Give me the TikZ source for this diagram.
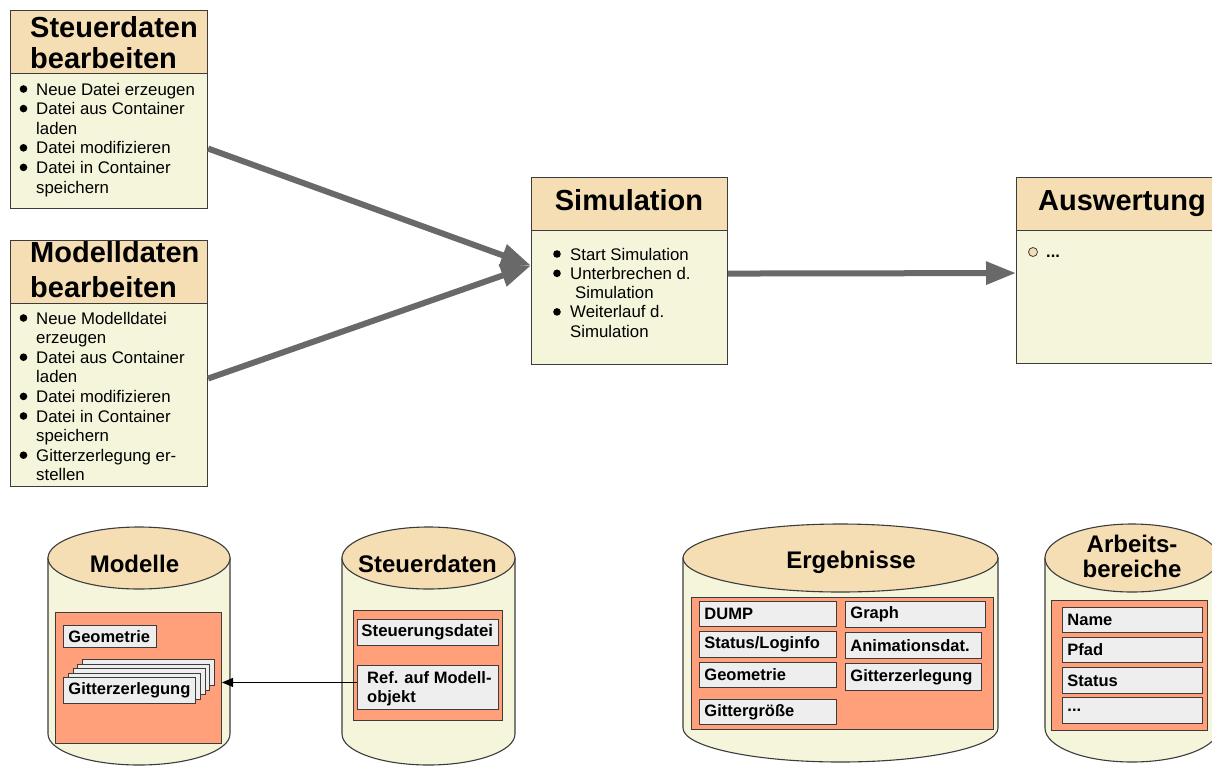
\documentclass[tikz,border=0pt]{standalone}
\usepackage{fontspec}
\setmainfont{Liberation Sans}
\usetikzlibrary{arrows.meta,calc}
\definecolor{hdr}{RGB}{245,222,179}
\definecolor{bod}{RGB}{245,245,220}
\definecolor{org}{RGB}{255,160,122}
\definecolor{gbx}{RGB}{238,238,238}
\definecolor{brd}{RGB}{60,60,60}
\definecolor{arr}{RGB}{105,105,105}
\begin{document}
\begin{tikzpicture}[x=1pt,y=-1pt,
  hbox/.style={draw=brd,fill=hdr,line width=1.1pt,anchor=north west,inner sep=0pt},
  bbox/.style={draw=brd,fill=bod,line width=1.1pt,anchor=north west,inner sep=0pt},
  obox/.style={draw=brd,fill=org,line width=1pt,anchor=north west,inner sep=0pt},
  ibox/.style={draw=brd,fill=gbx,line width=0.9pt,anchor=north west,inner xsep=5pt,inner ysep=0pt,align=left,font=\fontsize{16.5}{19}\selectfont\bfseries},
  htxt/.style={inner sep=0pt,font=\fontsize{29}{31.5}\selectfont\bfseries},
  ctxt/.style={inner sep=0pt,anchor=base,font=\fontsize{24}{25}\selectfont\bfseries},
  ltxt/.style={inner sep=0pt,anchor=base west,font=\fontsize{16.8}{19.6}\selectfont},
  btxt/.style={inner sep=0pt,anchor=base west,font=\fontsize{16.5}{19}\selectfont\bfseries},
  cyl/.style={draw=brd,fill=bod,line width=1.1pt},
  cyltop/.style={draw=brd,fill=hdr,line width=1.1pt},
  bigarrow/.style={draw=arr,line width=6pt,-{Triangle[length=30pt,width=22pt]}},
  thinarrow/.style={draw=black,line width=0.9pt,-{Triangle[length=11pt,width=9pt]}}
]
\path[use as bounding box] (0,0) rectangle (1212,766);

% ---------- Steuerdaten bearbeiten
\node[hbox,minimum width=197pt,minimum height=63pt] (sbh) at (10,10) {};
\node[bbox,minimum width=197pt,minimum height=135pt] (sbb) at (10,73) {};
\node[htxt,anchor=base west] (sbt1) at (30,37) {Steuerdaten};
\node[htxt,anchor=base west] (sbt2) at (30,68) {bearbeiten};
\foreach[count=\i] \y/\t in {95/Neue Datei erzeugen,114.6/Datei aus Container,134.2/laden,153.8/Datei modifizieren,173.4/Datei in Container,193/speichern}
  \node[ltxt] (sbl\i) at (36,\y) {\t};
\foreach \y in {95,114.6,153.8,173.4} \fill (23.5,\y-6) circle (3.8);

% ---------- Modelldaten bearbeiten
\node[hbox,minimum width=197pt,minimum height=63pt] (mdh) at (10,240) {};
\node[bbox,minimum width=197pt,minimum height=183pt] (mdb) at (10,303) {};
\node[htxt,anchor=base west] (mdt1) at (30,262) {Modelldaten};
\node[htxt,anchor=base west] (mdt2) at (30,297) {bearbeiten};
\foreach[count=\i] \y/\t in {324/Neue Modelldatei,343.6/erzeugen,363.2/Datei aus Container,382.8/laden,402.4/Datei modifizieren,422/Datei in Container,441.6/speichern,461.2/Gitterzerlegung er-,480.8/stellen}
  \node[ltxt] (mdl\i) at (36,\y) {\t};
\foreach \y in {324,363.2,402.4,422,461.2} \fill (23.5,\y-6) circle (3.8);

% ---------- Simulation
\node[hbox,minimum width=196pt,minimum height=53pt] (simh) at (531,177) {};
\node[bbox,minimum width=196pt,minimum height=134pt] (simb) at (531,230) {};
\node[htxt,anchor=base] (simt) at (629,210) {Simulation};
\foreach[count=\i] \x/\y/\t in {570/260/Start Simulation,570/279.3/Unterbrechen d.,575/298.6/Simulation,570/317.9/Weiterlauf d.,570/337.2/Simulation}
  \node[ltxt] (siml\i) at (\x,\y) {\t};
\foreach \y in {260,279.3,317.9} \fill (557,\y-6) circle (3.8);

% ---------- Auswertung
\node[hbox,minimum width=212pt,minimum height=53pt] (awh) at (1016,177) {};
\node[bbox,minimum width=212pt,minimum height=133pt] (awb) at (1016,230) {};
\node[htxt,anchor=base west] (awt) at (1038,210) {Auswertung};
\draw[brd,fill=hdr,line width=0.8pt] (1033,252) circle (4.5);
\node[btxt] (awl) at (1046,257) {...};

% ---------- big arrows
\draw[bigarrow] ([yshift=-7.5pt]sbb.east) -- ([yshift=32pt]simb.west);
\draw[bigarrow] ([yshift=16.5pt]mdb.east) -- ([yshift=32pt]simb.west);
\draw[bigarrow] ([yshift=24pt]simb.east) -- ([yshift=24pt]awb.west);

% ---------- cylinder Modelle
\path[cyl] (48,558) -- (48,734) arc[start angle=180,end angle=0,x radius=91,y radius=31] -- (230,558) -- cycle;
\path[cyltop] (139,558) ellipse[x radius=91,y radius=31];
\node[ctxt] (cmt) at (134.5,572) {Modelle};
\node[obox,minimum width=166pt,minimum height=131pt] (mi) at (55,612) {};
\node[ibox,text width=83pt,minimum height=22pt] (mgeo) at (63,625) {Geometrie};
\foreach \k in {4,3,2,1}
  \node[ibox,text width=122pt,minimum height=26pt] (mg\k) at (63+4.75*\k,677-4.5*\k) {};
\node[ibox,text width=122pt,minimum height=26pt] (mgit) at (63,677) {Gitterzerlegung};

% ---------- cylinder Steuerdaten
\path[cyl] (342,558) -- (342,734) arc[start angle=180,end angle=0,x radius=86.5,y radius=31] -- (515,558) -- cycle;
\path[cyltop] (428.5,558) ellipse[x radius=86.5,y radius=31];
\node[ctxt] (cst) at (427.5,572) {Steuerdaten};
\node[obox,minimum width=149pt,minimum height=110pt] (si) at (353,610) {};
\node[ibox,text width=133pt,inner xsep=4pt,minimum height=26pt,font=\fontsize{16.8}{19}\selectfont\bfseries] (sdat) at (357,619) {Steuerungsdatei};
\node[ibox,minimum width=141pt,minimum height=44pt] (sref) at (357,665) {};
\node[btxt] (sref1) at (367,683) {Ref. auf Modell-};
\node[btxt] (sref2) at (367,702) {objekt};
\draw[thinarrow] ([yshift=5pt]sref.west) -- ([yshift=5pt]sref.west -| mi.east);

% ---------- cylinder Ergebnisse
\path[cyl] (683,558) -- (683,728) arc[start angle=180,end angle=0,x radius=157.5,y radius=34] -- (998,558) -- cycle;
\path[cyltop] (840.5,558) ellipse[x radius=157.5,y radius=34];
\node[ctxt] (cet) at (851,568) {Ergebnisse};
\node[obox,minimum width=302pt,minimum height=132pt] (ei) at (691,597) {};
\node[ibox,text width=127pt,minimum height=25pt] (edump) at (699,601) {DUMP};
\node[ibox,text width=127pt,minimum height=26pt] (estat) at (699,631) {Status/Loginfo};
\node[ibox,text width=127pt,minimum height=25pt] (egeo) at (699,662) {Geometrie};
\node[ibox,text width=127pt,minimum height=25pt] (egg) at (699,699) {Gittergröße};
\node[ibox,text width=130pt,minimum height=26pt] (egraph) at (845,601) {Graph};
\node[ibox,text width=126pt,minimum height=26pt] (eanim) at (845,632) {Animationsdat.};
\node[ibox,text width=126pt,minimum height=27pt] (egit) at (845,663) {Gitterzerlegung};

% ---------- cylinder Arbeitsbereiche
\path[cyl] (1045,558) -- (1045,728) arc[start angle=180,end angle=0,x radius=87,y radius=34] -- (1219,558) -- cycle;
\path[cyltop] (1132,558) ellipse[x radius=87,y radius=34];
\node[ctxt] (cat1) at (1132,552) {Arbeits-};
\node[ctxt] (cat2) at (1132,577) {bereiche};
\node[obox,minimum width=156pt,minimum height=130pt] (ai) at (1051,600) {};
\node[ibox,text width=130pt,minimum height=25pt] (aname) at (1062,607) {Name};
\node[ibox,text width=130pt,minimum height=25pt] (apfad) at (1062,637) {Pfad};
\node[ibox,text width=130pt,minimum height=26pt] (astat) at (1062,667) {Status};
\node[ibox,text width=130pt,minimum height=26pt] (adots) at (1062,697) {...};
\end{tikzpicture}
\end{document}
